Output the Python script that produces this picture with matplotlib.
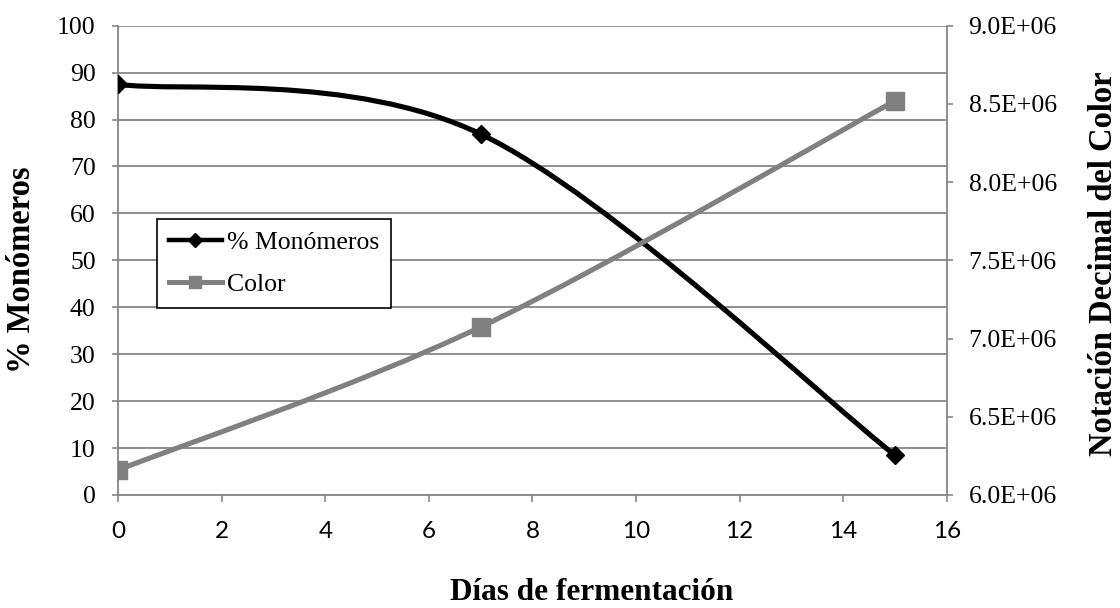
"""
% Monomeros y color vs dias de fermentacion
"""
import numpy as np
import matplotlib
matplotlib.use("Agg")
import matplotlib.pyplot as plt
from matplotlib.path import Path
from matplotlib.patches import PathPatch
from matplotlib.lines import Line2D
from matplotlib.ticker import FuncFormatter

# data
v_dias = [0, 7, 15]
v_monomeros = [87.5, 76.9, 8.5]
v_color = [6.16e6, 7.074e6, 8.519e6]

v_xticks = [0, 2, 4, 6, 8, 10, 12, 14, 16]
v_yticks_left = [0, 10, 20, 30, 40, 50, 60, 70, 80, 90, 100]
v_yticks_right = [6.0e6, 6.5e6, 7.0e6, 7.5e6, 8.0e6, 8.5e6, 9.0e6]

s_xlabel = "Días de fermentación"
s_ylabel_left = "% Monómeros"
s_ylabel_right = "Notación Decimal del Color"
s_leg_mono = "% Monómeros"
s_leg_color = "Color"

c_grid = "#868686"
c_gray = "#808080"

plt.rcParams['font.family'] = ['Liberation Serif', 'DejaVu Serif']


def smooth_path(xs, ys):
    # excel-like smoothed line: cubic bezier segments through the points
    pts = np.column_stack([xs, ys]).astype(float)
    n = len(pts)
    verts = [pts[0]]
    codes = [Path.MOVETO]
    for i in range(n - 1):
        p_prev = pts[max(i - 1, 0)]
        p0 = pts[i]
        p1 = pts[i + 1]
        p_next = pts[min(i + 2, n - 1)]
        verts += [p0 + (p1 - p_prev) / 6, p1 - (p_next - p0) / 6, p1]
        codes += [Path.CURVE4] * 3
    return Path(verts, codes)


fig = plt.figure(figsize=(11.2, 6.08), dpi=100)
ax = fig.add_axes([0.1056, 0.1859, 0.7396, 0.7719])
ax2 = ax.twinx()

# left axis: % monomeros
ax.add_patch(PathPatch(smooth_path(v_dias, v_monomeros), facecolor='none',
                       edgecolor='black', lw=3.7, capstyle='round', zorder=3))
ax.plot(v_dias, v_monomeros, linestyle='none', marker='D', ms=9.5,
        color='black', zorder=4)

# right axis: color
ax2.add_patch(PathPatch(smooth_path(v_dias, v_color), facecolor='none',
                        edgecolor=c_gray, lw=3.7, capstyle='round', zorder=3))
ax2.plot(v_dias, v_color, linestyle='none', marker='s', ms=13.5,
         color=c_gray, zorder=4)

ax.set_xlim(0, 16)
ax.set_ylim(0, 100)
ax2.set_ylim(6.0e6, 9.0e6)

ax.set_xticks(v_xticks, labels=[str(v) for v in v_xticks],
              fontfamily='Lato', fontsize=17.5)
ax.set_yticks(v_yticks_left)
ax2.set_yticks(v_yticks_right)
ax2.yaxis.set_major_formatter(FuncFormatter(lambda v, p: f"{v:.1E}"))

ax.yaxis.grid(True, color=c_grid, lw=1.3)
ax.set_axisbelow(True)

ax.tick_params(axis='x', direction='out', length=5, width=1.2, color=c_grid, pad=14)
ax.tick_params(axis='y', direction='out', length=4.3, width=1.2, color=c_grid,
               pad=12, labelsize=18.5)
ax2.tick_params(axis='y', direction='out', length=4.3, width=1.2, color=c_grid,
                pad=11.5, labelsize=18.5)

for s in ['top', 'right']:
    ax.spines[s].set_visible(False)
for s in ['top', 'left', 'bottom']:
    ax2.spines[s].set_visible(False)
for s in ['left', 'bottom']:
    ax.spines[s].set_color(c_grid)
    ax.spines[s].set_linewidth(1.3)
ax2.spines['right'].set_color(c_grid)
ax2.spines['right'].set_linewidth(1.3)

# legend
h_mono = Line2D([], [], color='black', lw=3.2, marker='D', ms=7)
h_color = Line2D([], [], color=c_gray, lw=3.6, marker='s', ms=9)
leg = ax2.legend([h_mono, h_color], [s_leg_mono, s_leg_color],
                 loc='upper left', bbox_to_anchor=(0.0471, 0.5875),
                 borderaxespad=0, fontsize=18.5, frameon=True, fancybox=False,
                 framealpha=1, edgecolor='black', borderpad=0.45,
                 labelspacing=0.75, handlelength=2.06, handletextpad=0.2)
leg.get_frame().set_linewidth(1.2)

# axis titles
fig.text(592 / 1120, 1 - 600 / 608, s_xlabel, ha='center', va='baseline',
         fontsize=22.5, fontweight='bold')
fig.text(22 / 1120, 1 - 270 / 608, s_ylabel_left, ha='center', va='center',
         rotation=90, fontsize=23.5, fontweight='bold')
fig.text(1104 / 1120, 1 - 264 / 608, s_ylabel_right, ha='center', va='center',
         rotation=90, fontsize=23.5, fontweight='bold')

fig.savefig("out.png", dpi=100)
